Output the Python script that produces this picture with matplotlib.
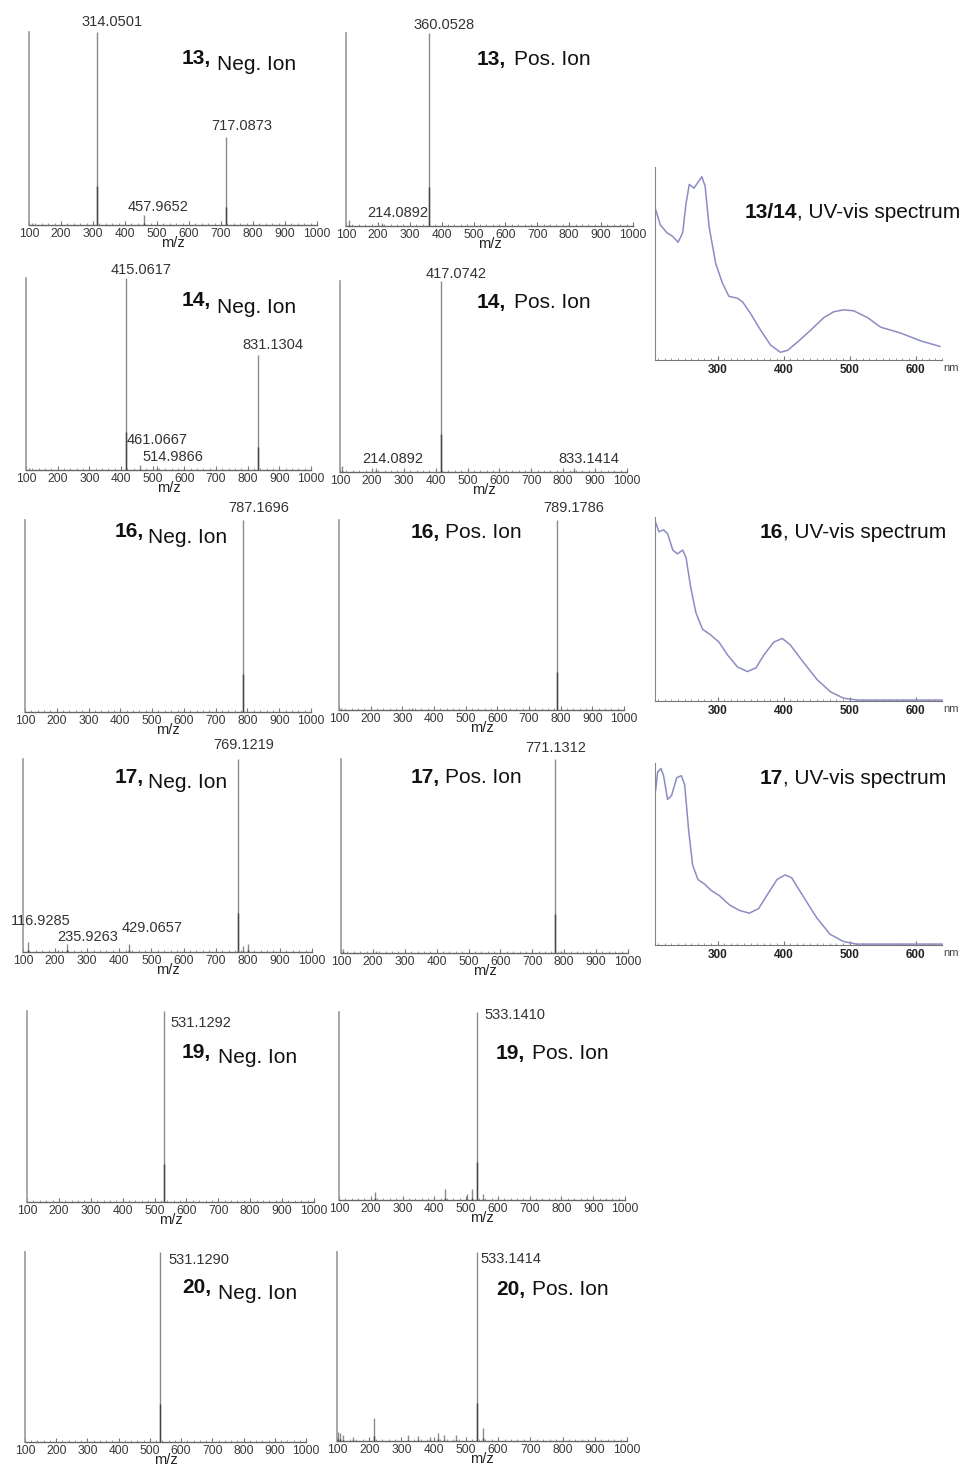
import matplotlib
matplotlib.use("Agg")
import matplotlib.pyplot as plt
from matplotlib.ticker import MultipleLocator
import numpy as np

plt.rcParams["font.family"] = ["Liberation Sans", "DejaVu Sans"]

# ---------------- data ----------------
# Compound 13
c13_neg_mz = [110.0, 314.0501, 457.9652, 717.0873]
c13_neg_int = [0.01, 1.00, 0.05, 0.456]
c13_neg_labels = ["314.0501", "717.0873", "457.9652"]
c13_pos_mz = [110.0, 214.0892, 360.0528, 735.0, 820.0]
c13_pos_int = [0.03, 0.015, 1.00, 0.006, 0.004]
c13_pos_labels = ["360.0528", "214.0892"]

# Compound 14
c14_neg_mz = [110.0, 415.0617, 461.0667, 514.9866, 831.1304]
c14_neg_int = [0.01, 1.00, 0.025, 0.02, 0.60]
c14_neg_labels = ["415.0617", "831.1304", "461.0667", "514.9866"]
c14_pos_mz = [105.0, 214.0892, 417.0742, 833.1414]
c14_pos_int = [0.03, 0.02, 1.00, 0.02]
c14_pos_labels = ["417.0742", "214.0892", "833.1414"]

# Compound 16
c16_neg_mz = [787.1696]
c16_neg_int = [1.00]
c16_neg_labels = ["787.1696"]
c16_pos_mz = [105.0, 330.0, 789.1786]
c16_pos_int = [0.01, 0.01, 1.00]
c16_pos_labels = ["789.1786"]

# Compound 17
c17_neg_mz = [116.9285, 210.0, 235.9263, 429.0657, 769.1219, 785.0, 800.0]
c17_neg_int = [0.05, 0.01, 0.04, 0.04, 1.00, 0.03, 0.04]
c17_neg_labels = ["769.1219", "116.9285", "235.9263", "429.0657"]
c17_pos_mz = [105.0, 210.0, 771.1312, 790.0]
c17_pos_int = [0.02, 0.01, 1.00, 0.01]
c17_pos_labels = ["771.1312"]

# Compound 19
c19_neg_mz = [531.1292]
c19_neg_int = [1.00]
c19_neg_labels = ["531.1292"]
c19_pos_mz = [213.0, 433.0, 502.0, 520.0, 533.1410, 553.0]
c19_pos_int = [0.04, 0.06, 0.03, 0.06, 1.00, 0.03]
c19_pos_labels = ["533.1410"]

# Compound 20
c20_neg_mz = [531.1290]
c20_neg_int = [1.00]
c20_neg_labels = ["531.1290"]
c20_pos_mz = [102.0, 108.0, 118.0, 150.0, 214.0, 320.0, 350.0, 390.0, 412.0,
              432.0, 470.0, 533.1414, 553.0, 660.0]
c20_pos_int = [0.05, 0.04, 0.03, 0.02, 0.12, 0.03, 0.025, 0.02, 0.04,
               0.03, 0.03, 1.00, 0.07, 0.005]
c20_pos_labels = ["533.1414"]

# UV-vis spectra (nm, relative absorbance)
uv13_nm = [206, 213, 223, 232, 240, 247, 252, 257, 264, 270, 276, 281, 287, 297,
           307, 317, 330, 338, 350, 365, 380, 395, 406, 421, 441, 461, 476, 491,
           506, 527, 547, 577, 607, 637]
uv13_abs = [0.78, 0.70, 0.66, 0.64, 0.61, 0.66, 0.81, 0.91, 0.89, 0.92, 0.95, 0.90,
            0.69, 0.50, 0.40, 0.33, 0.32, 0.30, 0.24, 0.155, 0.078, 0.04, 0.05,
            0.093, 0.155, 0.22, 0.25, 0.26, 0.255, 0.22, 0.17, 0.14, 0.10, 0.07]

uv16_nm = [206, 211, 218, 224, 232, 239, 247, 252, 259, 267, 277, 289, 302, 315,
           330, 345, 358, 370, 385, 398, 410, 430, 451, 471, 491, 512, 560, 640]
uv16_abs = [0.97, 0.92, 0.93, 0.91, 0.82, 0.80, 0.82, 0.78, 0.62, 0.48, 0.39, 0.36,
            0.32, 0.25, 0.185, 0.16, 0.18, 0.25, 0.32, 0.34, 0.305, 0.21, 0.115,
            0.05, 0.015, 0.005, 0.005, 0.005]

uv17_nm = [206, 209, 214, 218, 224, 230, 238, 245, 250, 256, 262, 270, 280, 290,
           303, 318, 333, 348, 362, 375, 390, 402, 412, 430, 450, 470, 490, 510,
           560, 640]
uv17_abs = [0.85, 0.95, 0.97, 0.93, 0.80, 0.82, 0.92, 0.93, 0.88, 0.63, 0.44, 0.36,
            0.335, 0.30, 0.27, 0.22, 0.19, 0.175, 0.20, 0.275, 0.36, 0.385, 0.37,
            0.265, 0.15, 0.06, 0.02, 0.005, 0.005, 0.005]

uv_ticks = [300, 400, 500, 600]

# ---------------- layout ----------------
W, H = 973, 1470
fig = plt.figure(figsize=(W / 100, H / 100), dpi=100)


def px_axes(l, r, t, b):
    return fig.add_axes([l / W, 1 - b / H, (r - l) / W, (b - t) / H])


NARROW = ["Liberation Sans Narrow", "Liberation Sans"]


def ms_panel(box, mz, inten, labels, offsets):
    ax = px_axes(*box)
    ax.set_xlim(100, 1000)
    ax.set_ylim(0, 1)
    mz = np.asarray(mz)
    inten = np.asarray(inten)
    ax.vlines(mz, 0, inten, color="#8a8a8a", lw=1.0, zorder=2)
    ax.vlines(mz, 0, inten * 0.2, color="#444444", lw=1.0, zorder=3)
    for sp in ("top", "right"):
        ax.spines[sp].set_visible(False)
    ax.spines["left"].set_color("#9a9a9a")
    ax.spines["left"].set_linewidth(1.2)
    ax.spines["bottom"].set_color("#666666")
    ax.spines["bottom"].set_linewidth(1.0)
    ax.set_yticks([])
    ax.xaxis.set_major_locator(MultipleLocator(100))
    ax.xaxis.set_minor_locator(MultipleLocator(20))
    ax.tick_params(axis="x", which="major", direction="in", length=3,
                   color="#777777", labelsize=8.7, labelcolor="#383838", pad=2)
    ax.tick_params(axis="x", which="minor", direction="in", length=1.5,
                   color="#888888")
    for t in ax.get_xticklabels():
        t.set_family(NARROW)
    ax.set_xlabel("m/z", fontsize=10.5, labelpad=-3, color="#222222")
    for text, (dx, dy) in zip(labels, offsets):
        m = float(text)
        i = int(np.argmin(np.abs(mz - m)))
        ax.annotate(text, xy=(mz[i], inten[i]), xytext=(dx, dy),
                    textcoords="offset pixels", ha="center", va="bottom",
                    fontsize=10.5, color="#333333", annotation_clip=False)
    return ax


def uv_panel(box, nm, ab):
    ax = px_axes(*box)
    ax.plot(nm, ab, color="#8c8cc4", lw=1.1, solid_joinstyle="round",
            solid_capstyle="round")
    ax.set_xlim(205, 640)
    ax.set_ylim(0, 1)
    for sp in ("top", "right"):
        ax.spines[sp].set_visible(False)
    ax.spines["left"].set_color("#888888")
    ax.spines["bottom"].set_color("#777777")
    ax.set_yticks([])
    ax.set_xticks(uv_ticks)
    ax.xaxis.set_minor_locator(MultipleLocator(10))
    ax.tick_params(axis="x", which="major", direction="in", length=3,
                   color="#777777", labelsize=8.5, labelcolor="#222222", pad=3)
    ax.tick_params(axis="x", which="minor", direction="in", length=1.5,
                   color="#888888")
    for t in ax.get_xticklabels():
        t.set_fontweight("bold")
    b = box[3]
    fig.text(943 / W, 1 - (b + 8) / H, "nm", fontsize=8, color="#444444",
             ha="left", va="center")
    return ax


def title(xb, yb, bold, xr, yr, reg):
    fig.text(xb / W, 1 - yb / H, bold, fontsize=15, fontweight="bold",
             ha="right", va="baseline", color="#111111")
    fig.text(xr / W, 1 - yr / H, reg, fontsize=15, ha="left", va="baseline",
             color="#111111")


# Row 1 : compound 13
ms_panel((29, 317, 32, 225), c13_neg_mz, c13_neg_int, c13_neg_labels,
         [(15, 3), (15, 4), (15, 1)])
ms_panel((346, 633, 33, 226), c13_pos_mz, c13_pos_int, c13_pos_labels,
         [(15, 1), (15, 3)])
uv_panel((655, 942, 167, 360), uv13_nm, uv13_abs)
title(211, 64, "13,", 217, 70, "Neg. Ion")
title(506, 65, "13,", 514, 65, "Pos. Ion")
title(797, 218, "13/14", 797, 218, ", UV-vis spectrum")

# Row 2 : compound 14
ms_panel((26, 311, 278, 470), c14_neg_mz, c14_neg_int, c14_neg_labels,
         [(15, 1), (15, 3), (17, 18), (15, 2)])
ms_panel((340, 627, 281, 472), c14_pos_mz, c14_pos_int, c14_pos_labels,
         [(15, 0), (16, 2), (15, 2)])
title(211, 306, "14,", 217, 313, "Neg. Ion")
title(506, 308, "14,", 514, 308, "Pos. Ion")

# Row 3 : compound 16
ms_panel((25, 311, 520, 712), c16_neg_mz, c16_neg_int, c16_neg_labels,
         [(15, 5)])
ms_panel((339, 624, 520, 710), c16_pos_mz, c16_pos_int, c16_pos_labels,
         [(16, 5)])
uv_panel((655, 942, 517, 701), uv16_nm, uv16_abs)
title(144, 537, "16,", 148, 543, "Neg. Ion")
title(440, 538, "16,", 445, 538, "Pos. Ion")
title(783, 538, "16", 783, 538, ", UV-vis spectrum")

# Row 4 : compound 17
ms_panel((23, 312, 759, 952), c17_neg_mz, c17_neg_int, c17_neg_labels,
         [(6, 7), (12, 14), (21, 0), (23, 9)])
ms_panel((341, 628, 759, 953), c17_pos_mz, c17_pos_int, c17_pos_labels,
         [(1, 4)])
uv_panel((655, 942, 763, 945), uv17_nm, uv17_abs)
title(144, 783, "17,", 148, 788, "Neg. Ion")
title(440, 783, "17,", 445, 783, "Pos. Ion")
title(783, 784, "17", 783, 784, ", UV-vis spectrum")

# Row 5 : compound 19
ms_panel((27, 314, 1011, 1202), c19_neg_mz, c19_neg_int, c19_neg_labels,
         [(36, -19)])
ms_panel((339, 625, 1012, 1200), c19_pos_mz, c19_pos_int, c19_pos_labels,
         [(38, -10)])
title(211, 1058, "19,", 218, 1063, "Neg. Ion")
title(525, 1059, "19,", 532, 1059, "Pos. Ion")

# Row 6 : compound 20
ms_panel((25, 306, 1252, 1442), c20_neg_mz, c20_neg_int, c20_neg_labels,
         [(39, -15)])
ms_panel((337, 627, 1252, 1441), c20_pos_mz, c20_pos_int, c20_pos_labels,
         [(34, -14)])
title(211, 1293, "20,", 218, 1299, "Neg. Ion")
title(525, 1295, "20,", 532, 1295, "Pos. Ion")

fig.savefig("out.png", dpi=100, facecolor="white")
